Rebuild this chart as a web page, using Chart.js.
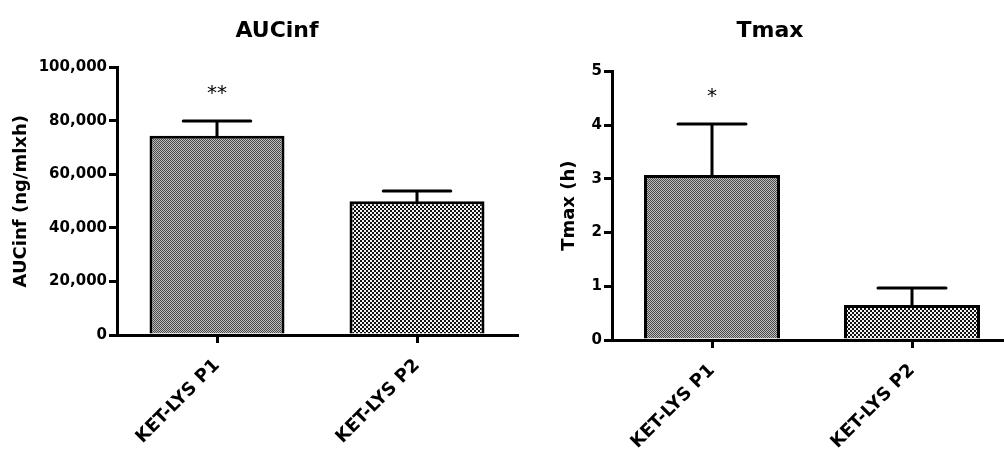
<!DOCTYPE html>
<html lang="en">
<head>
<meta charset="UTF-8">
<title>AUCinf / Tmax</title>
<script src="https://cdn.jsdelivr.net/npm/chart.js"></script>
<style>
  body { margin: 0; background: #fff; overflow: hidden; }
  #wrap { position: relative; width: 1004px; height: 453px; overflow: hidden; }
  canvas { position: absolute; top: 0; }
  #auc { left: 0; }
  #tmax { left: 500px; }
</style>
</head>
<body>
<div id="wrap">
  <canvas id="auc" width="554" height="453"></canvas>
  <canvas id="tmax" width="540" height="453"></canvas>
</div>
<script>
const categories = ['KET-LYS P1', 'KET-LYS P2'];

const aucMean = [74500, 50000];
const aucSD = [5500, 3800];
const aucStars = ['**', ''];
const aucTicks = [0, 20000, 40000, 60000, 80000, 100000];

const tmaxMean = [3.07, 0.65];
const tmaxSD = [0.95, 0.32];
const tmaxStars = ['*', ''];
const tmaxTicks = [0, 1, 2, 3, 4, 5];

const FONT = 'DejaVu Sans';

// checkered fills like the GraphPad patterns
function checker(size, dark, light) {
  const c = document.createElement('canvas');
  c.width = c.height = size * 2;
  const g = c.getContext('2d');
  g.fillStyle = light;
  g.fillRect(0, 0, size * 2, size * 2);
  g.fillStyle = dark;
  g.fillRect(0, 0, size, size);
  g.fillRect(size, size, size, size);
  return g.createPattern(c, 'repeat');
}
const fineFill = checker(1, '#4a4a4a', '#bdbdbd');
const coarseFill = checker(2, '#111111', '#f2f2f2');

// error bars (mean + SD) and significance stars
const errBars = {
  id: 'errBars',
  afterDatasetsDraw(chart, args, opts) {
    const ctx = chart.ctx;
    const y = chart.scales.y;
    const vals = chart.data.datasets[0].data;
    chart.getDatasetMeta(0).data.forEach((bar, i) => {
      const top = y.getPixelForValue(vals[i] + opts.sd[i]);
      const half = bar.width / 4;
      ctx.save();
      ctx.strokeStyle = '#000';
      ctx.lineWidth = 3;
      ctx.lineCap = 'round';
      ctx.beginPath();
      ctx.moveTo(bar.x, bar.y);
      ctx.lineTo(bar.x, top);
      ctx.moveTo(bar.x - half, top);
      ctx.lineTo(bar.x + half, top);
      ctx.stroke();
      if (opts.stars[i]) {
        ctx.fillStyle = '#000';
        ctx.font = '20px ' + FONT;
        ctx.textAlign = 'center';
        ctx.textBaseline = 'middle';
        ctx.fillText(opts.stars[i], bar.x, top - 27);
      }
      ctx.restore();
    });
  }
};

function makeChart(id, cfg) {
  return new Chart(document.getElementById(id), {
    type: 'bar',
    data: {
      labels: categories,
      datasets: [{
        data: cfg.values,
        backgroundColor: [fineFill, coarseFill],
        borderColor: '#000',
        borderWidth: 3,
        barPercentage: cfg.barPct,
        categoryPercentage: 1
      }]
    },
    options: {
      responsive: false,
      animation: false,
      layout: { padding: { left: cfg.padLeft, right: cfg.padRight, top: 0, bottom: 0 } },
      plugins: {
        legend: { display: false },
        tooltip: { enabled: false },
        title: {
          display: true,
          text: cfg.title,
          color: '#000',
          font: { family: FONT, size: 22, weight: 'bold' },
          padding: { top: 18, bottom: cfg.titleGap }
        },
        errBars: { sd: cfg.sd, stars: cfg.stars }
      },
      scales: {
        x: {
          offset: true,
          grid: { display: true, drawOnChartArea: false, offset: false, tickLength: 8, lineWidth: 3, color: '#000' },
          border: { display: true, width: 3, color: '#000' },
          ticks: {
            color: '#000',
            maxRotation: 45,
            minRotation: 45,
            padding: 12,
            font: { family: FONT, size: 18, weight: 'bold' }
          },
          afterFit: s => { s.height = cfg.xHeight; }
        },
        y: {
          min: cfg.ticks[0],
          max: cfg.ticks[cfg.ticks.length - 1],
          afterBuildTicks: s => { s.ticks = cfg.ticks.map(v => ({ value: v })); },
          grid: { display: true, drawOnChartArea: false, tickLength: 8, lineWidth: 3, color: '#000' },
          border: { display: true, width: 3, color: '#000' },
          ticks: {
            color: '#000',
            padding: 2,
            font: { family: FONT, size: 15, weight: 'bold' },
            callback: v => v.toLocaleString('en-US')
          },
          title: {
            display: true,
            text: cfg.yTitle,
            color: '#000',
            font: { family: FONT, size: 18, weight: 'bold' },
            padding: { top: cfg.yTitlePad, bottom: 0 }
          },
          afterFit: s => { s.width = cfg.yWidth; }
        }
      }
    },
    plugins: [errBars]
  });
}

makeChart('auc', {
  title: 'AUCinf', yTitle: 'AUCinf (ng/mlxh)',
  values: aucMean, sd: aucSD, stars: aucStars, ticks: aucTicks,
  barPct: 0.675, padLeft: 37, padRight: 37, yWidth: 80, yTitlePad: -26,
  titleGap: 23, xHeight: 118
});

makeChart('tmax', {
  title: 'Tmax', yTitle: 'Tmax (h)',
  values: tmaxMean, sd: tmaxSD, stars: tmaxStars, ticks: tmaxTicks,
  barPct: 0.68, padLeft: 28, padRight: 28, yWidth: 84, yTitlePad: 31,
  titleGap: 27, xHeight: 113
});
</script>
</body>
</html>
